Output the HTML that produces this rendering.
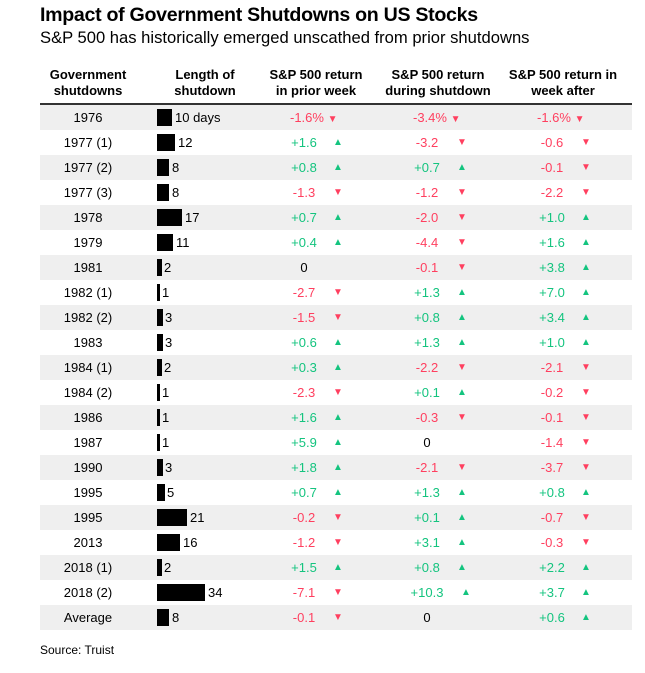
<!DOCTYPE html>
<html><head><meta charset="utf-8"><style>
body{margin:0;width:645px;height:673px;background:#fff;font-family:"Liberation Sans",Arial,sans-serif;color:#000;position:relative;overflow:hidden}
.t{position:absolute;left:40px;top:4px;font-size:19.6px;font-weight:bold;letter-spacing:-0.3px}
.s{position:absolute;left:40px;top:28px;font-size:16.6px}
.h{position:absolute;top:67px;font-size:13px;font-weight:bold;text-align:center;line-height:16px;width:130px;margin-left:-65px}
.hl{position:absolute;left:40px;top:103px;width:592px;height:2px;background:#333}
.r{position:absolute;left:40px;width:592px;height:25px;font-size:13px;line-height:25px}
.g{background:#efefef}
.r span{position:absolute;white-space:nowrap}
.c1{left:0;width:96px;text-align:center}
.b{top:4px;height:17px;background:#000;left:117px}
.v3,.v4,.v5{width:60px;text-align:center;margin-left:-30px}
.v3{left:264px}.v4{left:387px}.v5{left:512px}
.a3{left:293px}.a4{left:417px}.a5{left:541px}
.up,.dn{font-size:10px}
.up{color:#14c47f}.dn{color:#ff3f5f}
.G{color:#14c47f}.R{color:#ff3f5f}
.src{position:absolute;left:40px;top:643px;font-size:12px}
</style></head><body>
<div class="t">Impact of Government Shutdowns on US Stocks</div>
<div class="s">S&amp;P 500 has historically emerged unscathed from prior shutdowns</div>
<div class="h" style="left:88px">Government<br>shutdowns</div>
<div class="h" style="left:205px">Length of<br>shutdown</div>
<div class="h" style="left:316px;width:140px;margin-left:-70px">S&amp;P 500 return<br>in prior week</div>
<div class="h" style="left:438px;width:140px;margin-left:-70px">S&amp;P 500 return<br>during shutdown</div>
<div class="h" style="left:563px;width:140px;margin-left:-70px">S&amp;P 500 return in<br>week after</div>
<div class="hl"></div>

<div class="r g" style="top:105px"><span class="c1">1976</span><span class="b" style="width:15px"></span><span style="left:135px">10 days</span><span class="R" style="left:250px">-1.6% <small style="font-size:10px">▼</small></span><span class="R" style="left:373px">-3.4% <small style="font-size:10px">▼</small></span><span class="R" style="left:497px">-1.6% <small style="font-size:10px">▼</small></span></div>
<div class="r" style="top:130px"><span class="c1">1977 (1)</span><span class="b" style="width:18px"></span><span style="left:138px">12</span><span class="v3 G">+1.6</span><span class="a3 up">▲</span><span class="v4 R">-3.2</span><span class="a4 dn">▼</span><span class="v5 R">-0.6</span><span class="a5 dn">▼</span></div>
<div class="r g" style="top:155px"><span class="c1">1977 (2)</span><span class="b" style="width:12px"></span><span style="left:132px">8</span><span class="v3 G">+0.8</span><span class="a3 up">▲</span><span class="v4 G">+0.7</span><span class="a4 up">▲</span><span class="v5 R">-0.1</span><span class="a5 dn">▼</span></div>
<div class="r" style="top:180px"><span class="c1">1977 (3)</span><span class="b" style="width:12px"></span><span style="left:132px">8</span><span class="v3 R">-1.3</span><span class="a3 dn">▼</span><span class="v4 R">-1.2</span><span class="a4 dn">▼</span><span class="v5 R">-2.2</span><span class="a5 dn">▼</span></div>
<div class="r g" style="top:205px"><span class="c1">1978</span><span class="b" style="width:25px"></span><span style="left:145px">17</span><span class="v3 G">+0.7</span><span class="a3 up">▲</span><span class="v4 R">-2.0</span><span class="a4 dn">▼</span><span class="v5 G">+1.0</span><span class="a5 up">▲</span></div>
<div class="r" style="top:230px"><span class="c1">1979</span><span class="b" style="width:16px"></span><span style="left:136px">11</span><span class="v3 G">+0.4</span><span class="a3 up">▲</span><span class="v4 R">-4.4</span><span class="a4 dn">▼</span><span class="v5 G">+1.6</span><span class="a5 up">▲</span></div>
<div class="r g" style="top:255px"><span class="c1">1981</span><span class="b" style="width:5px"></span><span style="left:124px">2</span><span class="v3">0</span><span class="v4 R">-0.1</span><span class="a4 dn">▼</span><span class="v5 G">+3.8</span><span class="a5 up">▲</span></div>
<div class="r" style="top:280px"><span class="c1">1982 (1)</span><span class="b" style="width:3px"></span><span style="left:122px">1</span><span class="v3 R">-2.7</span><span class="a3 dn">▼</span><span class="v4 G">+1.3</span><span class="a4 up">▲</span><span class="v5 G">+7.0</span><span class="a5 up">▲</span></div>
<div class="r g" style="top:305px"><span class="c1">1982 (2)</span><span class="b" style="width:6px"></span><span style="left:125px">3</span><span class="v3 R">-1.5</span><span class="a3 dn">▼</span><span class="v4 G">+0.8</span><span class="a4 up">▲</span><span class="v5 G">+3.4</span><span class="a5 up">▲</span></div>
<div class="r" style="top:330px"><span class="c1">1983</span><span class="b" style="width:6px"></span><span style="left:125px">3</span><span class="v3 G">+0.6</span><span class="a3 up">▲</span><span class="v4 G">+1.3</span><span class="a4 up">▲</span><span class="v5 G">+1.0</span><span class="a5 up">▲</span></div>
<div class="r g" style="top:355px"><span class="c1">1984 (1)</span><span class="b" style="width:5px"></span><span style="left:124px">2</span><span class="v3 G">+0.3</span><span class="a3 up">▲</span><span class="v4 R">-2.2</span><span class="a4 dn">▼</span><span class="v5 R">-2.1</span><span class="a5 dn">▼</span></div>
<div class="r" style="top:380px"><span class="c1">1984 (2)</span><span class="b" style="width:3px"></span><span style="left:122px">1</span><span class="v3 R">-2.3</span><span class="a3 dn">▼</span><span class="v4 G">+0.1</span><span class="a4 up">▲</span><span class="v5 R">-0.2</span><span class="a5 dn">▼</span></div>
<div class="r g" style="top:405px"><span class="c1">1986</span><span class="b" style="width:3px"></span><span style="left:122px">1</span><span class="v3 G">+1.6</span><span class="a3 up">▲</span><span class="v4 R">-0.3</span><span class="a4 dn">▼</span><span class="v5 R">-0.1</span><span class="a5 dn">▼</span></div>
<div class="r" style="top:430px"><span class="c1">1987</span><span class="b" style="width:3px"></span><span style="left:122px">1</span><span class="v3 G">+5.9</span><span class="a3 up">▲</span><span class="v4">0</span><span class="v5 R">-1.4</span><span class="a5 dn">▼</span></div>
<div class="r g" style="top:455px"><span class="c1">1990</span><span class="b" style="width:6px"></span><span style="left:125px">3</span><span class="v3 G">+1.8</span><span class="a3 up">▲</span><span class="v4 R">-2.1</span><span class="a4 dn">▼</span><span class="v5 R">-3.7</span><span class="a5 dn">▼</span></div>
<div class="r" style="top:480px"><span class="c1">1995</span><span class="b" style="width:8px"></span><span style="left:127px">5</span><span class="v3 G">+0.7</span><span class="a3 up">▲</span><span class="v4 G">+1.3</span><span class="a4 up">▲</span><span class="v5 G">+0.8</span><span class="a5 up">▲</span></div>
<div class="r g" style="top:505px"><span class="c1">1995</span><span class="b" style="width:30px"></span><span style="left:150px">21</span><span class="v3 R">-0.2</span><span class="a3 dn">▼</span><span class="v4 G">+0.1</span><span class="a4 up">▲</span><span class="v5 R">-0.7</span><span class="a5 dn">▼</span></div>
<div class="r" style="top:530px"><span class="c1">2013</span><span class="b" style="width:23px"></span><span style="left:143px">16</span><span class="v3 R">-1.2</span><span class="a3 dn">▼</span><span class="v4 G">+3.1</span><span class="a4 up">▲</span><span class="v5 R">-0.3</span><span class="a5 dn">▼</span></div>
<div class="r g" style="top:555px"><span class="c1">2018 (1)</span><span class="b" style="width:5px"></span><span style="left:124px">2</span><span class="v3 G">+1.5</span><span class="a3 up">▲</span><span class="v4 G">+0.8</span><span class="a4 up">▲</span><span class="v5 G">+2.2</span><span class="a5 up">▲</span></div>
<div class="r" style="top:580px"><span class="c1">2018 (2)</span><span class="b" style="width:48px"></span><span style="left:168px">34</span><span class="v3 R">-7.1</span><span class="a3 dn">▼</span><span class="v4 G">+10.3</span><span class="a4 up" style="left:421px">▲</span><span class="v5 G">+3.7</span><span class="a5 up">▲</span></div>
<div class="r g" style="top:605px"><span class="c1">Average</span><span class="b" style="width:12px"></span><span style="left:132px">8</span><span class="v3 R">-0.1</span><span class="a3 dn">▼</span><span class="v4">0</span><span class="v5 G">+0.6</span><span class="a5 up">▲</span></div>

<div class="src">Source: Truist</div>
</body></html>
